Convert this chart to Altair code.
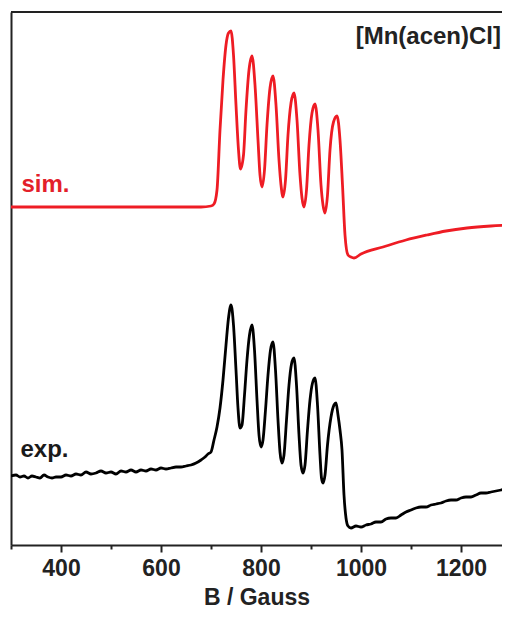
import altair as alt
import pandas as pd

# Simulated spectrum (red): magnetic field (Gauss) and intensity (a.u.)
sim_field = [300, 400, 500, 600, 680, 700, 706, 712, 718, 724, 730, 735, 740, 745, 750, 755, 759,
             765, 770, 776, 782, 788, 794, 798, 802, 807, 812, 818, 824, 830, 836, 840, 844,
             849, 854, 860, 866, 872, 878, 882, 886, 891, 896, 902, 908, 914, 920, 924, 928,
             933, 938, 945, 952, 958, 963, 968, 974, 980, 986, 1000, 1044, 1090, 1132, 1170,
             1212, 1260, 1300]
sim_intensity = [338, 338, 338, 338, 338, 339, 341, 355, 415, 465, 500, 512, 514, 490, 440, 395, 376,
                 390, 435, 475, 489, 460, 405, 370, 358, 375, 420, 457, 469, 440, 385, 360, 348,
                 365, 410, 442, 452, 425, 370, 347, 338, 355, 400, 432, 441, 415, 360, 340, 332,
                 350, 395, 423, 429, 405, 360, 310, 290, 288, 287, 291, 298, 305, 310, 314,
                 317, 319, 320]

# Experimental spectrum (black)
exp_field = [300, 310, 318, 326, 334, 342, 350, 358, 366, 374, 382, 390, 400, 410, 420, 430, 440,
             450, 460, 470, 480, 490, 500, 510, 520, 530, 540, 550, 560, 570, 580, 590, 600,
             610, 620, 630, 640, 650, 660, 670, 680, 688, 694, 700, 706, 712, 718, 724, 730,
             735, 740, 745, 750, 754, 758, 762, 767, 772, 777, 782, 787, 792, 796, 800, 804,
             809, 814, 819, 824, 829, 834, 838, 842, 846, 851, 856, 861, 866, 871, 876, 880,
             884, 888, 893, 898, 903, 908, 913, 918, 921, 924, 928, 933, 940, 946, 950, 954,
             958, 962, 966, 970, 974, 980, 990, 1000, 1010, 1020, 1030, 1040, 1050, 1060, 1070,
             1080, 1090, 1100, 1110, 1120, 1130, 1140, 1150, 1160, 1170, 1180, 1190, 1200, 1210,
             1220, 1230, 1240, 1250, 1260, 1270, 1280, 1290, 1300]
exp_intensity = [69, 70, 68, 69, 67, 69, 68, 67, 70, 68, 67, 68, 68, 70, 69, 71, 70,
                 73, 71, 72, 74, 72, 73, 71, 74, 73, 75, 73, 75, 74, 76, 75, 77,
                 76, 77, 78, 78, 79, 80, 82, 85, 88, 91, 93, 105, 118, 137, 165, 200,
                 227, 240, 220, 175, 137, 117, 120, 150, 185, 210, 220, 195, 145, 110, 98, 105,
                 135, 170, 195, 203, 175, 125, 93, 82, 90, 125, 160, 181, 187, 160, 110, 80,
                 72, 80, 115, 145, 162, 167, 140, 90, 67, 62, 70, 100, 128, 140, 142, 130,
                 115, 95, 50, 27, 19, 17, 19, 18, 20, 21, 23, 23, 26, 27, 27,
                 30, 33, 35, 37, 38, 38, 40, 41, 42, 44, 45, 45, 47, 48,
                 48, 50, 52, 52, 53, 54, 55, 56, 55]

series_names = ["sim.", "exp."]
series_colors = ["#ee1c24", "#000000"]

x_ticks = [300, 400, 500, 600, 700, 800, 900, 1000, 1100, 1200]

# Annotation texts
label_texts = ["sim.", "exp."]
label_field = [321, 319]
label_intensity = [353, 88]
title_text = ["[Mn(acen)Cl]"]
title_field = [1280]
title_intensity = [501]

FONT = "Liberation Sans"
INK = "#222222"
PLOT_W = 491
PLOT_H = 533

df = pd.concat([
    pd.DataFrame({"field": sim_field, "intensity": sim_intensity, "series": "sim."}),
    pd.DataFrame({"field": exp_field, "intensity": exp_intensity, "series": "exp."}),
], ignore_index=True)

x_scale = alt.Scale(domain=[300, 1282], nice=False, zero=False)
y_scale = alt.Scale(domain=[0, 533], nice=False, zero=False)

lines = alt.Chart(df).mark_line(strokeWidth=2.8, interpolate="monotone", clip=True).encode(
    x=alt.X("field:Q", scale=x_scale, title="B / Gauss",
            axis=alt.Axis(values=x_ticks, format="d",
                          labelExpr="datum.value % 200 === 0 ? datum.label : ''",
                          tickSize={"condition": {"test": "datum.value % 200 === 0", "value": 7}, "value": 4},
                          tickWidth=2, tickColor=INK, domainColor=INK, domainWidth=2,
                          labelFontSize=23, labelFontWeight="bold", labelColor=INK,
                          labelPadding=5, titleFontSize=23, titleFontWeight="bold",
                          titleColor=INK, titleY=59, titleBaseline="alphabetic",
                          grid=False, labelFont=FONT, titleFont=FONT, labelFlush=False)),
    y=alt.Y("intensity:Q", scale=y_scale,
            axis=alt.Axis(labels=False, ticks=False, title=None, grid=False,
                          domainColor=INK, domainWidth=2)),
    color=alt.Color("series:N", scale=alt.Scale(domain=series_names, range=series_colors), legend=None),
    detail="series:N",
)

# top frame line
top_frame = alt.Chart(pd.DataFrame({"k": [0]})).mark_rule(color=INK, strokeWidth=2).encode(
    x=alt.value(0), x2=alt.value(PLOT_W), y=alt.value(0),
)

lab_df = pd.DataFrame({"text": label_texts, "field": label_field, "intensity": label_intensity})
labels = alt.Chart(lab_df).mark_text(align="left", baseline="alphabetic", font=FONT,
                                     fontSize=24, fontWeight="bold").encode(
    x=alt.X("field:Q", scale=x_scale),
    y=alt.Y("intensity:Q", scale=y_scale),
    text="text:N",
    color=alt.Color("text:N", scale=alt.Scale(domain=series_names, range=["#e3202a", "#1a1a1a"]), legend=None),
)

t_df = pd.DataFrame({"text": title_text, "field": title_field, "intensity": title_intensity})
title = alt.Chart(t_df).mark_text(align="right", baseline="alphabetic", font=FONT,
                                  fontSize=24, fontWeight="bold", color=INK).encode(
    x=alt.X("field:Q", scale=x_scale),
    y=alt.Y("intensity:Q", scale=y_scale),
    text="text:N",
)

chart = alt.layer(lines, top_frame, labels, title).resolve_scale(color="independent").properties(
    width=PLOT_W, height=PLOT_H,
    autosize=alt.AutoSizeParams(type="none"),
    padding={"left": 3, "top": 4, "right": 0, "bottom": 66},
).configure_view(stroke=None).configure(background="white")

chart.save("out.html", embed_options={"renderer": "svg", "actions": False})
